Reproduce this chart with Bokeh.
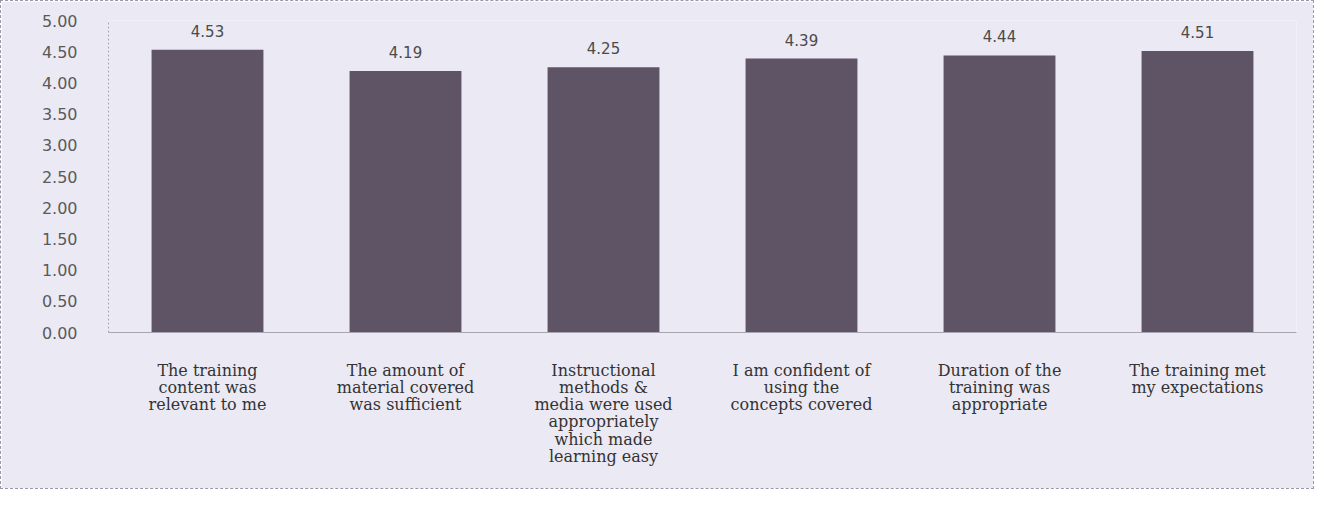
from bokeh.plotting import figure
from bokeh.models import ColumnDataSource, LabelSet, Range1d, FixedTicker, CustomJSTickFormatter
from bokeh.core.properties import value
from bokeh.embed import file_html
from bokeh.resources import INLINE

categories = [
    "The training\ncontent was\nrelevant to me",
    "The amount of\nmaterial covered\nwas sufficient",
    "Instructional\nmethods &\nmedia were used\nappropriately\nwhich made\nlearning easy",
    "I am confident of\nusing the\nconcepts covered",
    "Duration of the\ntraining was\nappropriate",
    "The training met\nmy expectations",
]
scores = [4.53, 4.19, 4.25, 4.39, 4.44, 4.51]
score_labels = ["4.53", "4.19", "4.25", "4.39", "4.44", "4.51"]
y_ticks = [0, 0.5, 1, 1.5, 2, 2.5, 3, 3.5, 4, 4.5, 5]

BG = "#ebe9f3"

src = ColumnDataSource(dict(cat=categories, val=scores, lab=score_labels))

p = figure(x_range=categories, y_range=Range1d(0, 5),
           width=1314, height=489, output_backend="svg", toolbar_location=None,
           min_border_left=107, min_border_right=19, min_border_top=19, min_border_bottom=158)
p.background_fill_color = BG
p.border_fill_color = BG
p.outline_line_color = None
p.styles = {"border": "1px dashed #9a98a4"}

p.vbar(x="cat", top="val", width=0.565, source=src, fill_color="#5f5466", line_color=None)

p.add_layout(LabelSet(x="cat", y="val", text="lab", source=src, y_offset=13,
                      text_align="center", text_baseline="bottom",
                      text_font=value("DejaVu Sans"), text_font_size=value("15px"),
                      text_color="#4a4a4a"))

p.xgrid.grid_line_color = None
p.ygrid.grid_line_color = None

p.yaxis.ticker = FixedTicker(ticks=y_ticks)
p.yaxis.formatter = CustomJSTickFormatter(code="return tick.toFixed(2);")
p.yaxis.major_tick_line_color = None
p.yaxis.minor_tick_line_color = None
p.yaxis.axis_line_color = "#a8a6b0"
p.yaxis.axis_line_dash = "2 2"
p.yaxis.major_label_standoff = 25
p.yaxis.major_label_text_font = "DejaVu Sans"
p.yaxis.major_label_text_font_size = "16px"
p.yaxis.major_label_text_color = "#5a5a5a"

p.xaxis.major_tick_line_color = None
p.xaxis.axis_line_color = "#a8a6b0"
p.xaxis.major_label_standoff = 22
p.xaxis.major_label_text_font = "DejaVu Serif"
p.xaxis.major_label_text_font_size = "16px"
p.xaxis.major_label_text_color = "#333333"
p.xaxis.major_label_text_line_height = 0.91

open("out.html", "w").write(file_html(p, INLINE))
